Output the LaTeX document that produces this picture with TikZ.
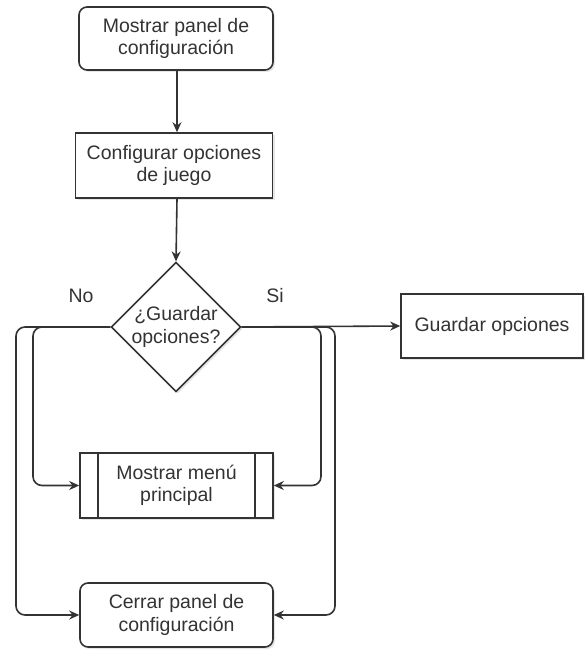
\documentclass[tikz,border=0pt]{standalone}
\usepackage{fontspec}
\setmainfont{Liberation Sans}
\usetikzlibrary{shapes.geometric,arrows.meta,shadows}
\definecolor{ink}{HTML}{333333}
\begin{document}
\begin{tikzpicture}[x=1pt,y=-1pt,
  every node/.style={font=\fontsize{19.5}{22.5}\selectfont, text=ink},
  boxbase/.style={draw=ink, line width=1.6pt, fill=white, align=center, inner sep=0pt,
    drop shadow={opacity=0.2, shadow xshift=2pt, shadow yshift=-2pt}},
  procbox/.style={boxbase, rectangle},
  roundbox/.style={boxbase, rectangle, rounded corners=8pt},
  decision/.style={boxbase, diamond, minimum width=125pt, minimum height=126pt},
  flow/.style={draw=ink, line width=1.6pt, rounded corners=9pt, -{Stealth[length=10pt,width=9pt]}},
  tag/.style={font=\fontsize{19.5}{22.5}\selectfont}
]
\useasboundingbox (0,0) rectangle (584,650);

\node[roundbox, minimum width=194pt, minimum height=63pt] (start) at (176,38.5)
  {Mostrar panel de\\configuración};
\node[procbox, minimum width=197pt, minimum height=65pt] (config) at (174,165.5)
  {Configurar opciones\\de juego};
\node[decision] (ask) at (176,327) {¿Guardar\\opciones?};
\node[procbox, minimum width=182pt, minimum height=64pt] (save) at (492,326)
  {Guardar opciones};
\node[procbox, minimum width=193pt, minimum height=65pt] (menu) at (176.5,485.5)
  {Mostrar menú\\principal};
\draw[draw=ink, line width=1.6pt] ([xshift=19pt]menu.north west) -- ([xshift=19pt]menu.south west);
\draw[draw=ink, line width=1.6pt] ([xshift=-19pt]menu.north east) -- ([xshift=-19pt]menu.south east);
\node[roundbox, minimum width=193pt, minimum height=64pt] (close) at (176.5,615)
  {Cerrar panel de\\configuración};

\node[tag] (no) at (81,296) {No};
\node[tag] (si) at (275,296) {Si};

\coordinate (l1) at (33,327);
\coordinate (l2) at (16,327);
\coordinate (r1) at (321,327);
\coordinate (r2) at (335,327);

\draw[flow] (start.south -| 177,0) -- (config.north -| 177,0);
\draw[flow] (config.south -| 177,0) -- (ask.north);
\draw[flow] (ask.east) -- (save.west);
\draw[flow] (ask.west) -- (l1) |- (menu.west);
\draw[flow] (ask.west) -- (l2) |- (close.west);
\draw[flow] (ask.east) -- (r1) |- (menu.east);
\draw[flow] (ask.east) -- (r2) |- (close.east);
\end{tikzpicture}
\end{document}
